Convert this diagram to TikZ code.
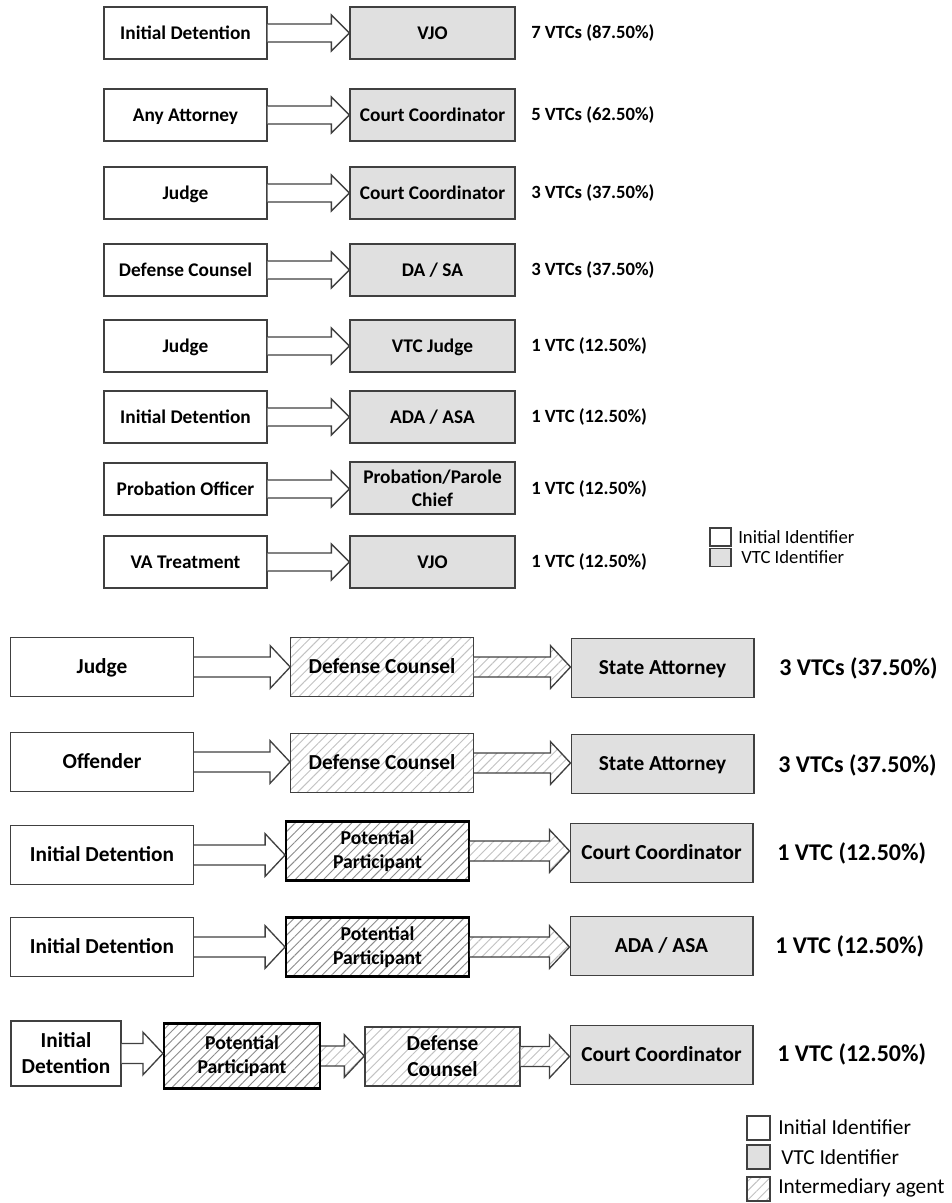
\documentclass[tikz,border=0pt]{standalone}
\usepackage{fontspec}
\setmainfont{Carlito}
\usetikzlibrary{calc,patterns.meta}
\definecolor{boxline}{rgb}{0.25,0.25,0.25}
\definecolor{vtcgray}{rgb}{0.88,0.88,0.88}
\definecolor{hatchlight}{rgb}{0.76,0.76,0.76}
\definecolor{hatchdark}{rgb}{0.55,0.55,0.55}

\tikzset{
  boxbase/.style={draw=boxline, line width=1pt, align=center, inner sep=1pt},
  initbox/.style={boxbase, fill=white},
  vtcbox/.style={boxbase, fill=vtcgray},
  agentbox/.style={boxbase, preaction={fill=white},
    pattern={Lines[angle=45,distance=5pt,line width=0.7pt]}, pattern color=hatchlight},
  partbox/.style={agentbox, draw=black, line width=1.6pt, pattern color=hatchdark,
    font=\fontsize{14.75}{17.5}\selectfont\bfseries},
  topsize/.style={minimum width=122.25pt, minimum height=39pt,
    text height=12pt, text depth=3pt,
    font=\fontsize{14.5}{17}\selectfont\bfseries},
  botsize/.style={minimum width=137pt, minimum height=44.25pt,
    text height=13pt, text depth=3pt,
    font=\fontsize{16}{19.5}\selectfont\bfseries},
  twolines/.style={text height=, text depth=},
  toptext/.style={anchor=west, inner sep=0pt, font=\fontsize{14}{17}\selectfont\bfseries},
  bottext/.style={anchor=west, inner sep=0pt, font=\fontsize{18}{21}\selectfont\bfseries},
  keytext/.style={anchor=west, inner sep=0pt},
  arrowline/.style={draw=boxline, line width=1pt},
  agentarrow/.style={preaction={fill=white},
    pattern={Lines[angle=45,distance=5pt,line width=0.7pt]}, pattern color=hatchlight}
}

% hollow block arrow from one node to the next
\newcommand{\blockarrow}[3][fill=white]{%
  \draw[arrowline,#1] let \p1=(#2.east), \p2=(#3.west) in
    (\x1,\y1+\arrshaft) -- (\x2-\arrhead,\y1+\arrshaft) -- (\x2-\arrhead,\y1+\arrwing)
    -- (\x2,\y1) -- (\x2-\arrhead,\y1-\arrwing) -- (\x2-\arrhead,\y1-\arrshaft)
    -- (\x1,\y1-\arrshaft);}

\begin{document}
\begin{tikzpicture}[x=0.75pt, y=-0.75pt]
\useasboundingbox (0,0) rectangle (951,1203);

% one step paths
\def\arrshaft{6.75pt}\def\arrwing{13.5pt}\def\arrhead{13.5pt}
\foreach \yy/\first/\last/\share [count=\i] in {
    33/Initial Detention/VJO/7 VTCs (87.50\%),
    115/Any Attorney/Court Coordinator/5 VTCs (62.50\%),
    193/Judge/Court Coordinator/3 VTCs (37.50\%),
    270/Defense Counsel/{DA / SA}/3 VTCs (37.50\%),
    346/Judge/VTC Judge/1 VTC (12.50\%),
    417/Initial Detention/{ADA / ASA}/1 VTC (12.50\%),
    562/VA Treatment/VJO/1 VTC (12.50\%)} {
    \node[initbox,topsize] (init\i) at (185.5,\yy) {\first};
    \node[vtcbox,topsize,minimum width=123.75pt] (vtc\i) at (432.5,\yy) {\last};
    \node[toptext] (share\i) at (531,\yy) {\share};
    \blockarrow{init\i}{vtc\i}
}
\node[initbox,topsize] (probinit) at (185.5,489) {Probation Officer};
\node[vtcbox,topsize,twolines,minimum width=123.75pt] (probvtc) at (432.5,488) {Probation/Parole\\Chief};
\node[toptext] (probshare) at (531,489) {1 VTC (12.50\%)};
\blockarrow{probinit}{probvtc}

% key for the top part
\node[initbox,minimum width=15.75pt,minimum height=13.5pt,inner sep=0pt] (keyinit) at (720.5,537) {};
\node[vtcbox,minimum width=15.75pt,minimum height=13.5pt,inner sep=0pt] (keyvtc) at (720.5,557.5) {};
\node[keytext,font=\fontsize{14}{16}\selectfont] (keyinitlbl) at (738,537) {Initial Identifier};
\node[keytext,font=\fontsize{14}{16}\selectfont] (keyvtclbl) at (741,557.5) {VTC Identifier};

% paths with an intermediary
\def\arrshaft{7.5pt}\def\arrwing{16pt}\def\arrhead{15pt}
\node[initbox,botsize] (judge) at (102,667) {Judge};
\node[agentbox,botsize] (counselA) at (382,667) {Defense Counsel};
\node[vtcbox,botsize] (stateA) at (662.5,668) {State Attorney};
\node[bottext] (shareA) at (779,668) {3 VTCs (37.50\%)};
\blockarrow{judge}{counselA}
\blockarrow[agentarrow]{counselA}{stateA}

\node[initbox,botsize] (offender) at (102,762) {Offender};
\node[agentbox,botsize] (counselB) at (382,763) {Defense Counsel};
\node[vtcbox,botsize] (stateB) at (662.5,764) {State Attorney};
\node[bottext] (shareB) at (778,765) {3 VTCs (37.50\%)};
\blockarrow{offender}{counselB}
\blockarrow[agentarrow]{counselB}{stateB}

\node[initbox,botsize] (detainC) at (102,855) {Initial Detention};
\node[partbox,botsize,twolines,font=\fontsize{14.75}{17.5}\selectfont\bfseries] (partC) at (377.5,851) {Potential\\Participant};
\node[vtcbox,botsize] (coordC) at (661.5,853) {Court Coordinator};
\node[bottext] (shareC) at (777,853) {1 VTC (12.50\%)};
\blockarrow{detainC}{partC}
\blockarrow[agentarrow]{partC}{coordC}

\node[initbox,botsize] (detainD) at (102,947) {Initial Detention};
\node[partbox,botsize,twolines,font=\fontsize{14.75}{17.5}\selectfont\bfseries] (partD) at (377.5,947) {Potential\\Participant};
\node[vtcbox,botsize] (asaD) at (661.5,946) {ADA / ASA};
\node[bottext] (shareD) at (775,946) {1 VTC (12.50\%)};
\blockarrow{detainD}{partD}
\blockarrow[agentarrow]{partD}{asaD}

\node[initbox,botsize,twolines,minimum width=82.5pt,minimum height=48.75pt] (detainE) at (66,1053.5) {Initial\\Detention};
\node[partbox,botsize,twolines,minimum width=117pt,minimum height=48.75pt,font=\fontsize{14.75}{17.5}\selectfont\bfseries] (partE) at (242,1056) {Potential\\Participant};
\node[agentbox,botsize,twolines,minimum width=116.25pt] (counselE) at (442.5,1056.5) {Defense\\Counsel};
\node[vtcbox,botsize] (coordE) at (661.5,1055) {Court Coordinator};
\node[bottext] (shareE) at (777,1054) {1 VTC (12.50\%)};
\blockarrow{detainE}{partE}
\blockarrow[agentarrow]{partE}{counselE}
\blockarrow[agentarrow]{counselE}{coordE}

% key for the bottom part
\node[initbox,minimum width=17.25pt,minimum height=18pt,inner sep=0pt] (keyinitB) at (758.5,1128) {};
\node[vtcbox,minimum width=17.25pt,minimum height=18pt,inner sep=0pt] (keyvtcB) at (758.5,1157) {};
\node[agentbox,minimum width=17.25pt,minimum height=18pt,inner sep=0pt] (keyagentB) at (758.5,1189) {};
\node[keytext,font=\fontsize{16}{19}\selectfont] (keyinitBlbl) at (778,1127) {Initial Identifier};
\node[keytext,font=\fontsize{16}{19}\selectfont] (keyvtcBlbl) at (781,1157) {VTC Identifier};
\node[keytext,font=\fontsize{16}{19}\selectfont] (keyagentBlbl) at (778,1188) {Intermediary agent};
\end{tikzpicture}
\end{document}
